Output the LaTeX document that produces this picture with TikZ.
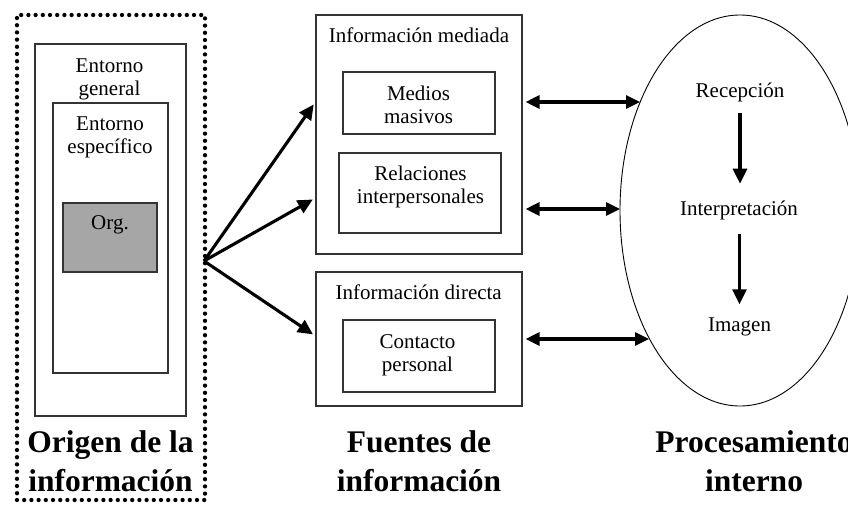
\documentclass[tikz,border=0pt]{standalone}
\usepackage{fontspec}
\setmainfont{Liberation Serif}
\usetikzlibrary{arrows.meta,shapes.geometric}
\definecolor{orggray}{RGB}{166,166,166}
\tikzset{
  box/.style={draw=black!80, line width=1.1pt, inner sep=0pt, rectangle},
  txt/.style={font=\fontsize{21}{23}\selectfont, inner sep=0pt, align=center},
  lone/.style={font=\fontsize{21}{23}\selectfont, inner sep=0pt, anchor=base},
  big/.style={font=\fontsize{31.5}{39}\selectfont\bfseries, inner sep=0pt, align=center},
  arr/.style={-{Triangle[length=15pt,width=14pt]}, line width=3.1pt},
  dbl/.style={{Triangle[length=14pt,width=13pt]}-{Triangle[length=14pt,width=13pt]}, line width=3.1pt},
  dotbox/.style={draw, line width=4.3pt, dash pattern=on 0pt off 7.2pt, line cap=round, inner sep=0pt}
}
\begin{document}
\begin{tikzpicture}[x=1pt,y=-1pt]
\useasboundingbox (0,0) rectangle (848,506);
% origin column
\node[dotbox, minimum width=188pt, minimum height=485pt] (src) at (111,257.5) {};
\node[box, minimum width=151pt, minimum height=372pt] (gen) at (110.5,230) {};
\node[txt] (gent) at (109.5,79.4) {Entorno\\general};
\node[box, minimum width=115pt, minimum height=270pt] (spec) at (110.5,238) {};
\node[txt] (spect) at (110,137.3) {Entorno\\específico};
\node[box, fill=orggray, minimum width=94pt, minimum height=69pt] (org) at (110,237.5) {};
\node[lone] (orgt) at (110,229) {Org.};
\node[big] (srct) at (110.5,461) {Origen de la\\información};
% sources column
\node[box, minimum width=206pt, minimum height=239pt] (med) at (419,134.5) {};
\node[lone] (medt) at (419,42) {Información mediada};
\node[box, minimum width=152pt, minimum height=62pt] (mm) at (419,103) {};
\node[txt] (mmt) at (418.5,104.5) {Medios\\masivos};
\node[box, minimum width=162pt, minimum height=80pt] (rel) at (420,193) {};
\node[txt] (relt) at (420.5,187.3) {Relaciones\\interpersonales};
\node[box, minimum width=206pt, minimum height=134pt] (dir) at (419,339) {};
\node[lone] (dirt) at (418.7,299.3) {Información directa};
\node[box, minimum width=152pt, minimum height=72pt] (cp) at (419,356) {};
\node[txt] (cpt) at (417.5,355) {Contacto\\personal};
\node[big] (fuent) at (419,461.3) {Fuentes de\\información};
% processing column
\node[ellipse, draw, line width=0.9pt, minimum width=240pt, minimum height=391pt, inner sep=0pt] (proc) at (740,210.5) {};
\node[lone] (rec) at (740,97.3) {Recepción};
\node[lone] (int) at (739,215) {Interpretación};
\node[lone] (img) at (739.5,331.7) {Imagen};
\node[big] (proct) at (754,461) {Procesamiento\\interno};
% connectors
\coordinate (o) at (204,261);
\coordinate (t1) at (313,102);
\coordinate (t2) at (313,198);
\coordinate (t3) at (313,336);
\draw[arr, shorten >=3pt] (o) -- (med.west |- t1);
\draw[arr, shorten >=3pt] (o) -- (med.west |- t2);
\draw[arr, shorten >=3pt] (o) -- (dir.west |- t3);
\coordinate (e1) at (640,102);
\coordinate (e2) at (620,209);
\coordinate (e3) at (649,339);
\draw[dbl, shorten <=3pt] (med.east |- e1) -- (e1);
\draw[dbl, shorten <=3pt] (med.east |- e2) -- (e2);
\draw[dbl, shorten <=3pt] (dir.east |- e3) -- (e3);
\draw[arr, shorten <=11.5pt, shorten >=16.5pt] (rec.south) -- (rec.south |- int.north);
\draw[arr, shorten <=14pt, shorten >=13.5pt] (int.south -| img.north) -- (img.north);
\end{tikzpicture}
\end{document}
